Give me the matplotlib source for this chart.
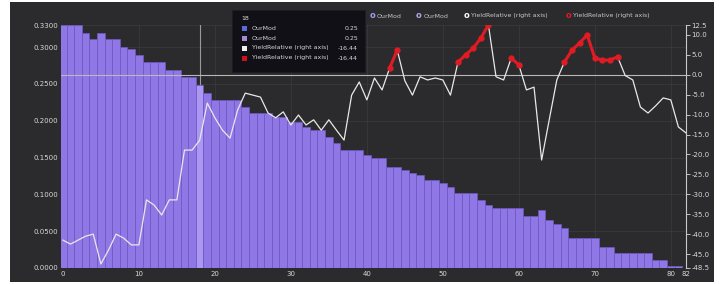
import numpy as np
import matplotlib.pyplot as plt

# Data
ourMod = [0.330, 0.330, 0.330, 0.319, 0.311, 0.319, 0.311, 0.311, 0.300, 0.297,
          0.289, 0.280, 0.280, 0.280, 0.269, 0.269, 0.259, 0.259, 0.249, 0.238,
          0.228, 0.228, 0.228, 0.228, 0.219, 0.210, 0.210, 0.210, 0.205, 0.205,
          0.198, 0.198, 0.191, 0.187, 0.187, 0.178, 0.170, 0.160, 0.160, 0.160,
          0.153, 0.149, 0.149, 0.137, 0.137, 0.133, 0.129, 0.126, 0.120, 0.120,
          0.115, 0.110, 0.102, 0.102, 0.102, 0.092, 0.086, 0.081, 0.081, 0.081,
          0.081, 0.071, 0.071, 0.079, 0.065, 0.060, 0.054, 0.041, 0.041, 0.041,
          0.041, 0.029, 0.029, 0.020, 0.020, 0.020, 0.020, 0.020, 0.011, 0.011,
          0.003, 0.003]

yieldRel = [-41.5, -42.5, -41.5, -40.5, -40.0, -47.5, -44.0, -40.0, -41.0, -42.7,
            -42.7, -31.4, -32.7, -35.2, -31.4, -31.4, -18.9, -18.9, -16.44, -7.1,
            -10.8, -13.9, -15.9, -8.8, -4.6, -5.1, -5.6, -9.6, -10.8, -9.3,
            -12.6, -10.1, -12.6, -11.3, -13.9, -11.3, -13.9, -16.4, -5.1, -1.8,
            -6.3, -0.8, -3.8, 1.7, 6.2, -1.5, -5.1, -0.5, -1.3, -0.8,
            -1.3, -5.1, 3.2, 5.0, 6.7, 9.2, 12.5, -0.5, -1.3, 4.2,
            2.5, -3.8, -3.1, -21.4, -11.3, -1.3, 3.2, 6.2, 8.0, 10.0,
            4.2, 3.7, 3.7, 4.5, -0.2, -1.3, -8.1, -9.6, -7.8, -5.8,
            -6.3, -13.1, -14.6]

leftTicks = [0.0, 0.05, 0.10, 0.15, 0.20, 0.25, 0.30, 0.33]
rightTicks = [12.5, 10, 5, 0, -5, -10, -15, -20, -25, -30, -35, -40, -45, -48.5]
xTicks = [0, 10, 20, 30, 40, 50, 60, 70, 80, 82]
hoverIdx = 18

bg = '#2b2b2d'
txt = '#d8d8d8'

fig = plt.figure(figsize=(7.24, 2.84), dpi=100)
fig.patch.set_facecolor('white')
# dark chart background
fig.patches.append(plt.Rectangle((10/724, 2/284), 704/724, 280/284, transform=fig.transFigure,
                                 facecolor=bg, edgecolor='none', zorder=-10))

ax = fig.add_axes([61/724, 16/284, 625/724, 243/284])
ax.set_facecolor(bg)
xb = np.arange(len(ourMod))
colors = ['#8f77e6'] * len(ourMod)
colors[hoverIdx] = '#ab98f2'
ax.axvline(hoverIdx, color='#9a9a9a', lw=0.8, zorder=1)
ax.bar(xb, ourMod, width=1.0, color=colors, edgecolor='#7058c4', linewidth=0.5, zorder=2)
ax.set_xlim(-0.25, 82)
ax.set_ylim(0, 0.33)
ax.set_yticks(leftTicks)
ax.set_yticklabels(['%.4f' % v for v in leftTicks])
ax.set_xticks(xTicks)
ax.grid(True, color='#3c3c3e', lw=0.5, zorder=0)
ax.set_axisbelow(True)
for s in ax.spines.values():
    s.set_visible(False)
ax.tick_params(colors=txt, labelsize=5, length=0, pad=2)

ax2 = ax.twinx()
ax2.set_ylim(-48.5, 12.5)
ax2.set_yticks(rightTicks)
ax2.set_yticklabels(['%.1f' % v for v in rightTicks])
ax2.axhline(0, color='#b8b8b8', lw=0.8)
xl = np.arange(len(yieldRel))
yr = np.array(yieldRel)
ax2.plot(xl, yr, color='#e8e8e8', lw=0.9)
pos = np.where(yr > 0, yr, np.nan)
ax2.plot(xl, pos, color='#e01b24', lw=2.2, marker='o', ms=3.5, mec='#e01b24')
for s in ax2.spines.values():
    s.set_visible(False)
ax2.spines['right'].set_visible(True)
ax2.spines['right'].set_color('#c8c8c8')
ax2.spines['right'].set_linewidth(0.8)
ax2.tick_params(colors=txt, labelsize=5, length=3, pad=1, width=0.6)
ax2.set_xlim(-0.25, 82)

# legend row at the top
legendItems = [('OurMod', '#98a0f0', 372), ('OurMod', '#b8a4e8', 419),
               ('YieldRelative (right axis)', '#ffffff', 466), ('YieldRelative (right axis)', '#e01b24', 568)]
for name, c, px in legendItems:
    fig.text(px/724, 1 - 16/284, 'o', color=c, fontsize=6, ha='center', va='center', fontweight='bold')
    fig.text((px + 5)/724, 1 - 16/284, name, color='#c8c8c8', fontsize=4.5, va='center')

# tooltip
fig.patches.append(plt.Rectangle((232/724, 1 - 72/284), 133/724, 62/284, transform=fig.transFigure,
                                 facecolor='#101016', edgecolor='#1c1c22', lw=0.5, zorder=5))
fig.text(241/724, 1 - 18/284, '18', color='#e0e0e0', fontsize=4.5, va='center', zorder=6)
rows = [('OurMod', '0.25', '#5b6ad8'), ('OurMod', '0.25', '#a58ad0'),
        ('YieldRelative (right axis)', '-16.44', '#f0f0f0'), ('YieldRelative (right axis)', '-16.44', '#d0101a')]
for k, (name, val, c) in enumerate(rows):
    yy = 1 - (28 + 10*k)/284
    fig.patches.append(plt.Rectangle((242/724, yy - 2.5/284), 5/724, 5/284, transform=fig.transFigure,
                                     facecolor=c, edgecolor='none', zorder=6))
    fig.text(252/724, yy, name, color='#d8d8d8', fontsize=4.5, va='center', zorder=6)
    fig.text(358/724, yy, val, color='#d8d8d8', fontsize=4.5, va='center', ha='right', zorder=6)

plt.savefig('out.png', dpi=100, facecolor=fig.get_facecolor())
